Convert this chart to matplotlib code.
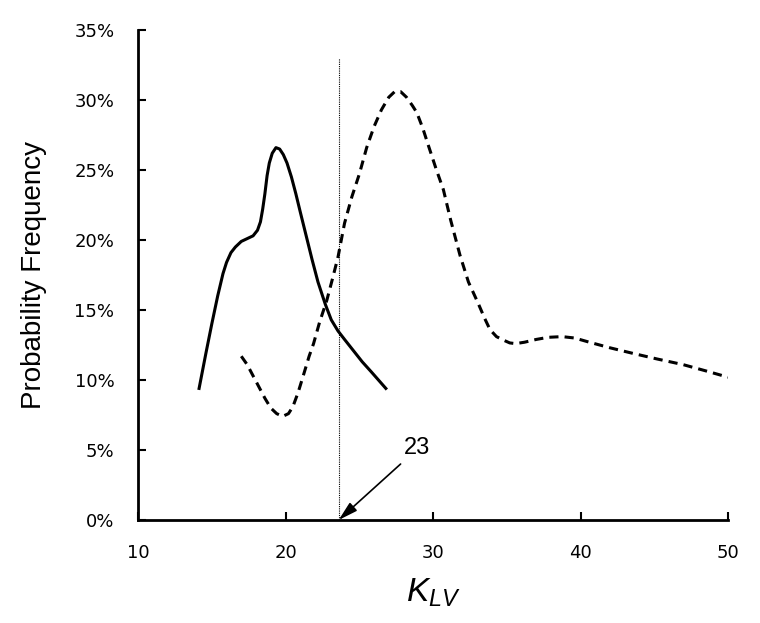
import matplotlib
matplotlib.use("Agg")
import matplotlib.pyplot as plt
from matplotlib.ticker import FuncFormatter

plt.rcParams["mathtext.fontset"] = "custom"
plt.rcParams["mathtext.it"] = "Liberation Sans:italic"
plt.rcParams["mathtext.rm"] = "Liberation Sans"

# Solid curve
solid_x = [14.14, 14.6, 15.0, 15.4, 15.76, 16.0, 16.3, 16.6, 17.0, 17.4, 17.8, 18.1, 18.3,
           18.45, 18.6, 18.75, 18.9, 19.1, 19.35, 19.6, 19.85, 20.1, 20.4, 20.7, 21.0, 21.4,
           21.8, 22.2, 22.7, 23.1, 23.56, 24.0, 24.6, 25.2, 25.8, 26.3, 26.8]
solid_y = [9.4, 11.9, 14.0, 16.0, 17.6, 18.4, 19.1, 19.5, 19.9, 20.1, 20.3, 20.7, 21.3,
           22.2, 23.3, 24.6, 25.5, 26.2, 26.6, 26.5, 26.1, 25.5, 24.5, 23.3, 22.0, 20.3,
           18.6, 17.0, 15.4, 14.3, 13.5, 12.9, 12.1, 11.3, 10.6, 10.0, 9.4]

# Dashed curve
dash_x = [17.0, 17.4, 17.8, 18.2, 18.6, 19.0, 19.4, 19.8, 20.2, 20.5, 20.85, 21.2, 21.6,
          21.9, 22.3, 22.8, 23.2, 23.56, 24.0, 24.5, 25.0, 25.5, 26.0, 26.5, 27.0, 27.4,
          27.8, 28.2, 28.6, 28.9, 29.3, 29.7, 30.2, 30.7, 31.2, 31.83, 32.4, 33.05, 33.5,
          33.86, 34.3, 34.75, 35.2, 35.6, 36.2, 37.0, 37.8, 38.75, 39.6, 40.6, 42.0, 43.56,
          45.2, 46.95, 48.5, 50.0]
dash_y = [11.7, 11.1, 10.3, 9.5, 8.7, 8.0, 7.6, 7.4, 7.6, 8.1, 9.1, 10.3, 11.7,
          12.6, 14.1, 15.7, 17.3, 18.8, 21.2, 23.1, 24.7, 26.6, 28.1, 29.3, 30.2, 30.6,
          30.6, 30.2, 29.6, 29.1, 28.0, 26.7, 25.1, 23.6, 21.4, 18.9, 17.0, 15.5, 14.4,
          13.6, 13.1, 12.86, 12.65, 12.6, 12.7, 12.9, 13.05, 13.1, 13.0, 12.7, 12.3, 11.9,
          11.5, 11.1, 10.65, 10.2]

threshold_x = 23.6
threshold_top = 33.0
threshold_label = "23"
label_pos = (28.0, 4.7)
arrow_tail = (27.8, 4.0)

x_ticks = [10, 20, 30, 40, 50]
y_ticks = [0, 5, 10, 15, 20, 25, 30, 35]

fig = plt.figure(figsize=(7.6, 6.23), dpi=100)
ax = fig.add_axes([0.1816, 0.1653, 0.958 - 0.1816, 0.9518 - 0.1653])

ax.plot(solid_x, solid_y, color="black", lw=2.2, solid_joinstyle="round")
ax.plot(dash_x, dash_y, color="black", lw=2.2, dashes=(3.0, 2.0))
ax.plot([threshold_x, threshold_x], [0, threshold_top], color="black", lw=0.8,
        linestyle=(0, (1, 1)))

ax.annotate("", xy=(threshold_x, 0), xytext=arrow_tail,
            arrowprops=dict(arrowstyle="-|>,head_length=0.9,head_width=0.25", color="black",
                            lw=1.2, mutation_scale=13, shrinkA=0, shrinkB=0))
ax.text(label_pos[0], label_pos[1], threshold_label, fontsize=17, family="Liberation Sans",
        ha="left", va="baseline")

ax.set_xlim(10, 50)
ax.set_ylim(0, 35)
ax.set_xticks(x_ticks)
ax.set_yticks(y_ticks)
ax.yaxis.set_major_formatter(FuncFormatter(lambda v, p: f"{v:.0f}%"))

for s in ["top", "right"]:
    ax.spines[s].set_visible(False)
for s in ["left", "bottom"]:
    ax.spines[s].set_linewidth(2)

ax.tick_params(axis="both", direction="in", length=6, width=1.5, labelsize=13)
ax.tick_params(axis="y", pad=17)
ax.tick_params(axis="x", pad=17)
for lab in ax.get_xticklabels() + ax.get_yticklabels():
    lab.set_family("DejaVu Sans")

ax.set_ylabel("Probability Frequency", fontsize=20, family="Liberation Sans", labelpad=20)
ax.set_xlabel(r"$K_{LV}$", fontsize=24, labelpad=10)

fig.savefig("out.png", dpi=100)
